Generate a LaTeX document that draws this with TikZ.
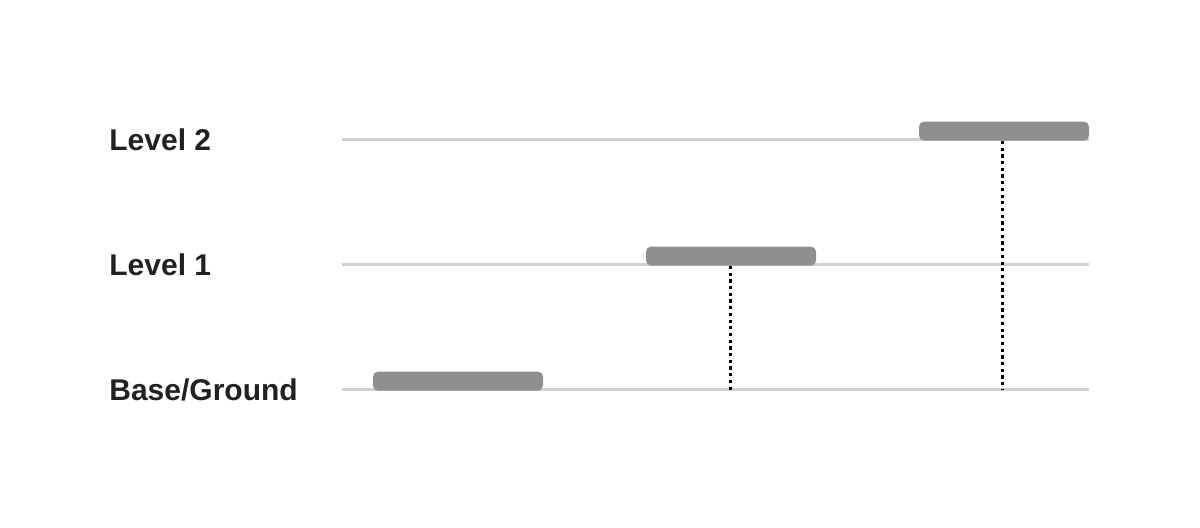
\documentclass[tikz,border=0pt]{standalone}
\usepackage{fontspec}
\setmainfont{Liberation Sans}
\usetikzlibrary{positioning}

\begin{document}
\begin{tikzpicture}[x=0.5pt,y=-0.5pt]
	\useasboundingbox (0,0) rectangle (1200,528);
	\begin{scope}[every node/.style = {anchor=base west, inner sep=0pt,
		font=\bfseries\fontsize{15}{18}\selectfont, text=black!87}]
		\node (L2) at (109,151) {Level 2};
		\node (L1) at (109,276) {Level 1};
		\node (L0) at (109,401) {Base/Ground};
	\end{scope}
	\coordinate (F0a) at (342,390);
	\coordinate (F0b) at (1089,390);
	\coordinate (F1a) at (342,265);
	\coordinate (F1b) at (1089,265);
	\coordinate (F2a) at (342,140);
	\coordinate (F2b) at (1089,140);
	\begin{scope}[line width=1.5pt, draw=black!18]
		\draw (F0a) -- (F0b);
		\draw (F1a) -- (F1b);
		\draw (F2a) -- (F2b);
	\end{scope}
	\begin{scope}[every node/.style = {rectangle, rounded corners=2.5pt,
		fill=black!44, minimum width=85pt, minimum height=9.5pt,
		inner sep=0pt, anchor=south}]
		\node (B0) at (458,391) {};
		\node (B1) at (731,266) {};
		\node (B2) at (1004,141) {};
	\end{scope}
	\begin{scope}[line width=1.5pt, dash pattern=on 1.6pt off 1.75pt]
		\draw ([xshift=-0.5pt]B1.south) -- ([xshift=-0.5pt]B1.south |- F0a);
		\draw ([xshift=-1pt]B2.south) -- ([xshift=-1pt]B2.south |- F0a);
	\end{scope}
\end{tikzpicture}
\end{document}
